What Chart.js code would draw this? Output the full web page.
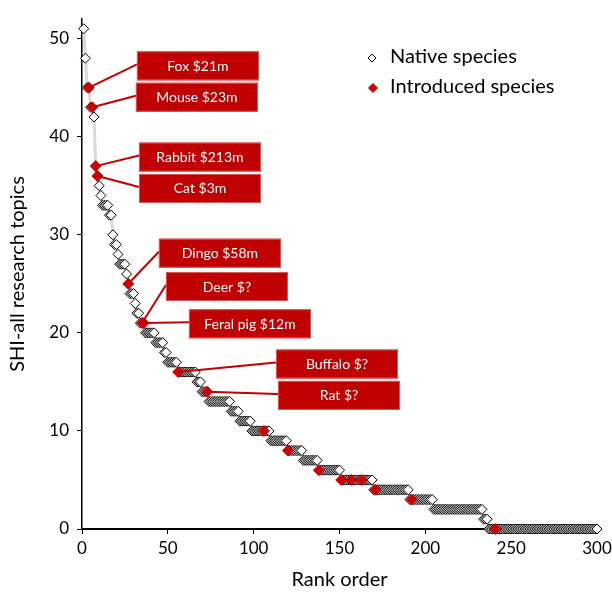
<!DOCTYPE html>
<html>
<head>
<meta charset="utf-8">
<script src="https://cdn.jsdelivr.net/npm/chart.js@4/dist/chart.umd.min.js"></script>
<style>
  html, body { margin: 0; padding: 0; background: #fff; }
  canvas { display: block; }
</style>
</head>
<body>
<canvas id="chart" width="612" height="592"></canvas>
<script>
// SHI-all value of each step down the ranked list, and how many species sit on it
const shiLevels = [51, 48, 45, 43, 42, 37, 36, 35, 34, 33, 32, 30, 29, 28, 27, 26, 25, 24, 23, 22, 21,
    20, 19, 18, 17, 16, 15, 14, 13, 12, 11, 10, 9, 8, 7, 6, 5, 4, 3, 2, 1, 0];
const speciesPerLevel = [1, 1, 2, 2, 1, 1, 1, 1, 1, 4, 2, 1, 2, 1, 4, 1, 1, 3, 1, 2, 3,
    6, 5, 2, 6, 11, 3, 4, 13, 5, 7, 11, 10, 9, 9, 13, 19, 21, 14, 29, 3, 64];
// ranks of introduced species (red diamonds)
const introducedRanks = [4, 6, 8, 9, 27, 35, 36, 56, 73, 106, 120, 138, 151, 157, 163, 171, 192, 241];
// labelled introduced species
const calloutRanks = [4, 6, 8, 9, 27, 35, 36, 56, 73];
const calloutText = ["Fox $21m", "Mouse $23m", "Rabbit $213m", "Cat $3m", "Dingo $58m",
    "Deer $?", "Feral pig $12m", "Buffalo $?", "Rat $?"];
const xTicks = [0, 50, 100, 150, 200, 250, 300];
const yTicks = [0, 10, 20, 30, 40, 50];

// where the callout boxes sit (left edge in rank units, top edge in SHI units)
const calloutBox = [[32, 48.7], [31.4, 45.5], [33.2, 39.4], [33.2, 36.2], [44.8, 29.6],
    [48.9, 26.2], [62.3, 22.4], [113, 18.3], [114.2, 15.1]];

const FONT = "Lato, 'Open Sans', sans-serif";
const RED = "#cc0000";
const BOX_RED = "#c00000";

const rankedValues = [];
shiLevels.forEach((v, i) => {
    for (let k = 0; k < speciesPerLevel[i]; k++) rankedValues.push(v);
});
const allPoints = rankedValues.map((v, i) => ({ x: i + 1, y: v }));
const nativePoints = allPoints.filter(p => !introducedRanks.includes(p.x));
const introducedPoints = allPoints.filter(p => introducedRanks.includes(p.x));

const diamond = (ctx, x, y, r, fill, stroke) => {
    ctx.beginPath();
    ctx.moveTo(x - r, y);
    ctx.lineTo(x, y - r);
    ctx.lineTo(x + r, y);
    ctx.lineTo(x, y + r);
    ctx.closePath();
    ctx.fillStyle = fill;
    ctx.fill();
    ctx.lineWidth = 1;
    ctx.strokeStyle = stroke;
    ctx.stroke();
};

const calloutPlugin = {
    id: "callouts",
    afterDatasetsDraw(chart) {
        const { ctx, scales: { x, y } } = chart;
        ctx.save();
        calloutText.forEach((text, i) => {
            const rank = calloutRanks[i];
            const px = x.getPixelForValue(rank);
            const py = y.getPixelForValue(rankedValues[rank - 1]);
            const bx = x.getPixelForValue(calloutBox[i][0]);
            const by = y.getPixelForValue(calloutBox[i][1]);
            ctx.strokeStyle = BOX_RED;
            ctx.lineWidth = 2;
            ctx.beginPath();
            ctx.moveTo(bx, by + 13);
            ctx.lineTo(px, py);
            ctx.stroke();
            ctx.fillStyle = BOX_RED;
            ctx.fillRect(bx, by, 122, 29);
            ctx.strokeStyle = "#d85a5a";
            ctx.lineWidth = 1;
            ctx.strokeRect(bx + 0.5, by + 0.5, 121, 28);
            ctx.fillStyle = "#fff";
            ctx.font = "14px " + FONT;
            ctx.textAlign = "center";
            ctx.textBaseline = "middle";
            ctx.fillText(text, bx + 61, by + 15);
        });

        // legend
        diamond(ctx, 372, 58, 4, "#fff", "#000");
        diamond(ctx, 373, 88, 4.5, RED, RED);
        ctx.fillStyle = "#000";
        ctx.font = "20px " + FONT;
        ctx.textAlign = "left";
        ctx.textBaseline = "middle";
        ctx.fillText("Native species", 390, 57);
        ctx.fillText("Introduced species", 390, 87);
        ctx.restore();
    }
};

new Chart(document.getElementById("chart"), {
    type: "scatter",
    data: {
        datasets: [
            {
                label: "Introduced species",
                data: introducedPoints,
                pointStyle: "rectRot",
                pointRadius: 5.5,
                backgroundColor: RED,
                borderColor: RED,
                borderWidth: 1,
                clip: false,
                order: 0,
            },
            {
                label: "Native species",
                data: nativePoints,
                pointStyle: "rectRot",
                pointRadius: 5,
                backgroundColor: "#fff",
                borderColor: "#000",
                borderWidth: 1,
                clip: false,
                order: 1,
            },
            {
                label: "trend",
                data: allPoints,
                showLine: true,
                borderColor: "#d9d9d9",
                borderWidth: 3,
                pointRadius: 0,
                order: 2,
            },
        ],
    },
    options: {
        responsive: false,
        animation: false,
        layout: { padding: { left: 0, right: 15, top: 19, bottom: 0 } },
        scales: {
            x: {
                type: "linear",
                min: 0,
                max: 300,
                afterFit: (scale) => {
                    scale.height = 63;
                    scale.paddingLeft = 0;
                    scale.paddingRight = 0;
                },
                afterBuildTicks: (axis) => { axis.ticks = xTicks.map(v => ({ value: v })); },
                border: { color: "#000", width: 2 },
                grid: { drawOnChartArea: false, drawTicks: true, tickLength: 5, color: "#000" },
                ticks: { color: "#000", padding: 4, font: { family: FONT, size: 17 }, maxRotation: 0 },
                title: {
                    display: true,
                    text: "Rank order",
                    color: "#000",
                    font: { family: FONT, size: 20 },
                    padding: { top: 0, bottom: 0 },
                },
            },
            y: {
                min: 0,
                max: 52,
                afterFit: (scale) => { scale.width = 82; },
                afterBuildTicks: (axis) => { axis.ticks = yTicks.map(v => ({ value: v })); },
                border: { color: "#000", width: 1.5 },
                grid: { drawOnChartArea: false, drawTicks: true, tickLength: 5, color: "#000" },
                ticks: { color: "#000", padding: 8, font: { family: FONT, size: 17 } },
                title: {
                    display: true,
                    text: "SHI-all research topics",
                    color: "#000",
                    font: { family: FONT, size: 20 },
                    padding: { top: 6, bottom: 0 },
                },
            },
        },
        plugins: {
            legend: { display: false },
            tooltip: { enabled: false },
        },
    },
    plugins: [calloutPlugin],
});
</script>
</body>
</html>
